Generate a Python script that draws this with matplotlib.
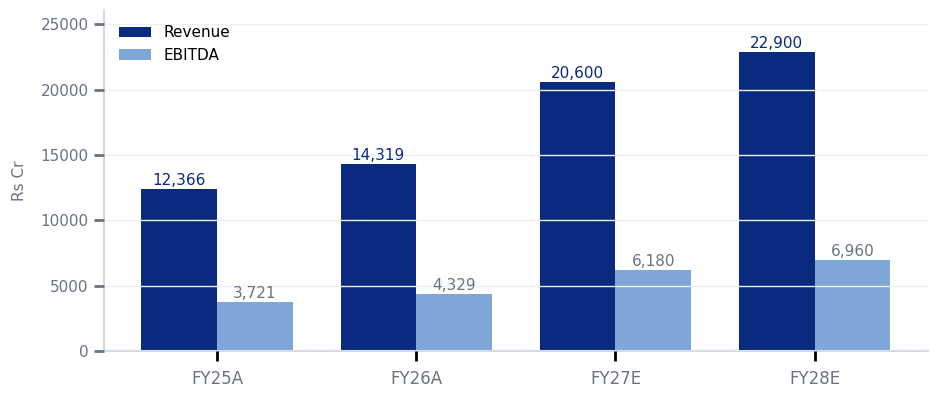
import numpy as np
import matplotlib
matplotlib.use("Agg")
import matplotlib.pyplot as plt

years = ["FY25A", "FY26A", "FY27E", "FY28E"]
revenue = [12366, 14319, 20600, 22900]
ebitda = [3721, 4329, 6180, 6960]

NAVY = "#0a2a80"
LIGHT = "#7fa6d8"
GREY = "#6b7280"
SPINE = "#d3dae5"


def plot_chart():
    fig = plt.figure(figsize=(9.4, 4), dpi=100)
    ax = fig.add_axes([0.1106, 0.1225, 0.8764, 0.8525])

    x = np.arange(len(years))
    w = 0.38
    b1 = ax.bar(x - w / 2, revenue, w, color=NAVY, label="Revenue", zorder=1)
    b2 = ax.bar(x + w / 2, ebitda, w, color=LIGHT, label="EBITDA", zorder=1)

    for bar, v in zip(b1, revenue):
        ax.text(bar.get_x() + bar.get_width() / 2, v + 80, f"{v:,}",
                ha="center", va="bottom", fontsize=11, color=NAVY)
    for bar, v in zip(b2, ebitda):
        ax.text(bar.get_x() + bar.get_width() / 2, v + 80, f"{v:,}",
                ha="center", va="bottom", fontsize=11, color=GREY)

    ax.set_ylim(0, 26100)
    ax.set_yticks([0, 5000, 10000, 15000, 20000, 25000])
    ax.set_xticks(x)
    ax.set_xticklabels(years)
    ax.yaxis.grid(True, color="#edf1f7", linewidth=1.0, zorder=2)
    ax.set_axisbelow(False)

    for s in ["top", "right"]:
        ax.spines[s].set_visible(False)
    for s in ["left", "bottom"]:
        ax.spines[s].set_color(SPINE)
        ax.spines[s].set_linewidth(1.5)

    ax.tick_params(axis="y", colors=GREY, labelsize=11, length=7, width=2, pad=4)
    ax.tick_params(axis="x", color="black", labelcolor=GREY, labelsize=12,
                   length=7, width=2, pad=7)
    ax.set_ylabel("Rs Cr", color=GREY, fontsize=11, labelpad=10)

    ax.legend(loc="upper left", frameon=False, fontsize=11,
              handlelength=2.1, handleheight=0.7, borderaxespad=0.6)

    fig.savefig("out.png", dpi=100)


if __name__ == "__main__":
    plot_chart()
